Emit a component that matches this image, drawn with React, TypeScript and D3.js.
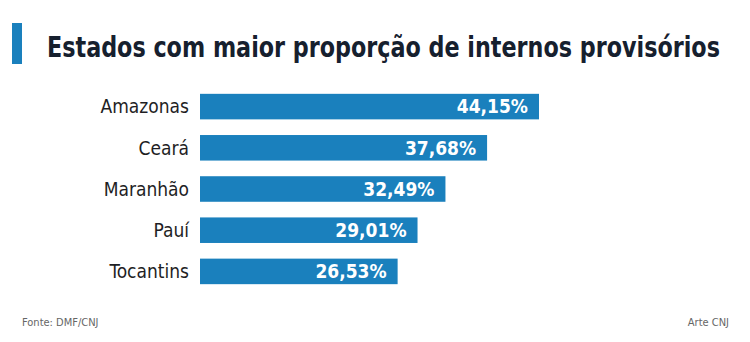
import React from "react";
import * as d3 from "d3";

const categories = ["Amazonas", "Ceará", "Maranhão", "Pauí", "Tocantins"];
const values = [44.15, 37.68, 32.49, 29.01, 26.53];
const valueLabels = ["44,15%", "37,68%", "32,49%", "29,01%", "26,53%"];

const W = 750;
const H = 342;
const BLUE = "#1a80bd";
const FONT = "'DejaVu Sans Condensed', 'Liberation Sans Narrow', 'Open Sans', sans-serif";

export default function App() {
  const x = d3.scaleLinear().domain([1.9, 44.15]).range([200, 539]);
  const y = d3.scaleBand<string>().domain(categories).range([86, 292]).paddingInner(0.38).paddingOuter(0.19);

  return (
    <svg width={W} height={H} style={{ position: "absolute", left: 0, top: 0, background: "#fff" }}>
      <rect x={0} y={0} width={W} height={H} fill="#fff" />
      <rect x={12} y={23} width={10} height={41} fill={BLUE} />
      <g transform="translate(47,57) scale(0.953,1.12)">
        <text x={0} y={0} fontFamily={FONT} fontWeight="bold" fontSize={26} fill="#16202e">
          Estados com maior proporção de internos provisórios
        </text>
      </g>
      {categories.map((c, i) => {
        const by = y(c)!;
        const bh = y.bandwidth();
        const x0 = x.range()[0];
        return (
          <g key={c}>
            <rect x={x0} y={by} width={x(values[i]) - x0} height={bh} fill={BLUE} />
            <text x={189} y={by + bh / 2} dy="0.36em" textAnchor="end" fontFamily={FONT}
              fontSize={19} fill="#1e1e24">{c}</text>
            <text x={x(values[i]) - 11} y={by + bh / 2} dy="0.36em" textAnchor="end" fontFamily={FONT}
              fontWeight="bold" fontSize={19} fill="#fff">{valueLabels[i]}</text>
          </g>
        );
      })}
      <text x={22} y={326} fontFamily={FONT} fontSize={11} fill="#666">Fonte: DMF/CNJ</text>
      <text x={729} y={326} textAnchor="end" fontFamily={FONT} fontSize={11} fill="#666">Arte CNJ</text>
    </svg>
  );
}
